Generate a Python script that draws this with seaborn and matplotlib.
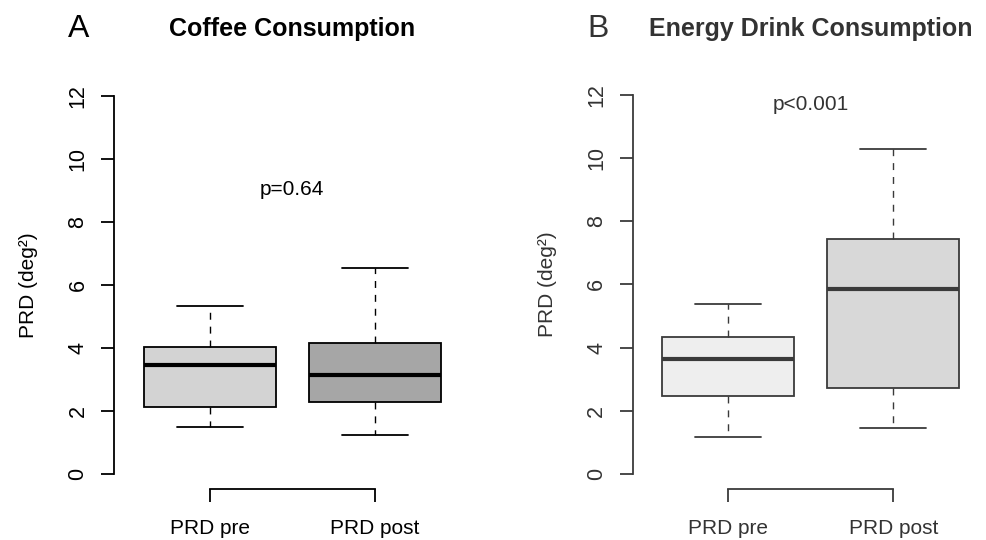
import matplotlib
matplotlib.use("Agg")
import matplotlib.pyplot as plt
import seaborn as sns
import pandas as pd

# ---- data (five-number summaries) ----
groups = ["PRD pre", "PRD post"]
coffee_pre = [1.51, 2.14, 3.46, 4.03, 5.33]
coffee_post = [1.25, 2.30, 3.14, 4.17, 6.55]
energy_pre = [1.15, 2.47, 3.63, 4.34, 5.39]
energy_post = [1.45, 2.71, 5.84, 7.43, 10.29]
yticks = [0, 2, 4, 6, 8, 10, 12]
titles = ["Coffee Consumption", "Energy Drink Consumption"]
letters = ["A", "B"]
pvals = ["p=0.64", "p<0.001"]
pval_y = [9.04, 11.69]

sns.set_theme(style="white")
plt.rcParams["font.family"] = ["Liberation Sans", "DejaVu Sans"]

W, H = 987, 540
fig = plt.figure(figsize=(W / 100, H / 100), dpi=100)

panels = [
    dict(pre=coffee_pre, post=coffee_post, fills=["#d3d3d3", "#a6a6a6"],
         ink="#000000", left=114.3, unit=164.8, y0=474.3, tcol="#000000"),
    dict(pre=energy_pre, post=energy_post, fills=["#eeeeee", "#d8d8d8"],
         ink="#3a3a3a", left=632.7, unit=165.0, y0=473.7, tcol="#333333"),
]

ppu = 31.55

for i, p in enumerate(panels):
    width_px = 2.16 * p["unit"]
    bottom_px = p["y0"] + 0.48 * ppu
    top_px = p["y0"] - 12.48 * ppu
    ax = fig.add_axes([p["left"] / W, 1 - bottom_px / H, width_px / W,
                       (bottom_px - top_px) / H])
    df = pd.DataFrame({
        "group": [groups[0]] * len(p["pre"]) + [groups[1]] * len(p["post"]),
        "value": p["pre"] + p["post"],
    })
    ink = p["ink"]
    sns.boxplot(data=df, x="group", y="value", hue="group", order=groups,
                palette=dict(zip(groups, p["fills"])), legend=False,
                width=0.8, whis=(0, 100), ax=ax, linecolor=ink, linewidth=1.2,
                boxprops=dict(edgecolor=ink, linewidth=1.3),
                whiskerprops=dict(color=ink, linestyle=(0, (5, 5)), linewidth=1.0),
                capprops=dict(color=ink, linewidth=1.3),
                medianprops=dict(color=ink, linewidth=3.0),
                showfliers=False, saturation=1)
    ax.set_xlim(-0.58, 1.58)
    ax.set_ylim(-0.48, 12.48)
    for s in ["top", "right"]:
        ax.spines[s].set_visible(False)
    for s in ["left", "bottom"]:
        ax.spines[s].set_color(ink)
        ax.spines[s].set_linewidth(1.3)
    ax.spines["left"].set_bounds(0, 12)
    ax.spines["bottom"].set_bounds(0, 1)
    ax.set_yticks(yticks)
    ax.set_yticklabels([str(v) for v in yticks], rotation=90, va="center",
                       fontsize=15.5, color=p["tcol"])
    ax.set_xticks([0, 1])
    ax.set_xticklabels(groups, fontsize=15, color=p["tcol"])
    ax.tick_params(axis="both", direction="out", length=9.5, width=1.3,
                   color=ink, left=True, bottom=True)
    ax.tick_params(axis="y", pad=9)
    ax.tick_params(axis="x", pad=12)
    ax.set_xlabel("")
    ax.set_ylabel("PRD (deg²)", fontsize=15, color=p["tcol"], labelpad=21)
    ax.text(0.5, pval_y[i], pvals[i], ha="center", va="center", fontsize=15,
            color=p["tcol"])

# titles and panel letters
fig.text(68 / W, 1 - 29 / H, letters[0], fontsize=23, ha="left", va="center",
         color="#000000")
fig.text(292 / W, 1 - 29 / H, titles[0], fontsize=18, fontweight="bold",
         ha="center", va="center", color="#000000")
fig.text(587 / W, 1 - 29 / H, letters[1], fontsize=23, ha="left", va="center",
         color="#333333")
fig.text(811 / W, 1 - 29 / H, titles[1], fontsize=18, fontweight="bold",
         ha="center", va="center", color="#333333")

fig.savefig("out.png", dpi=100, facecolor="white")
